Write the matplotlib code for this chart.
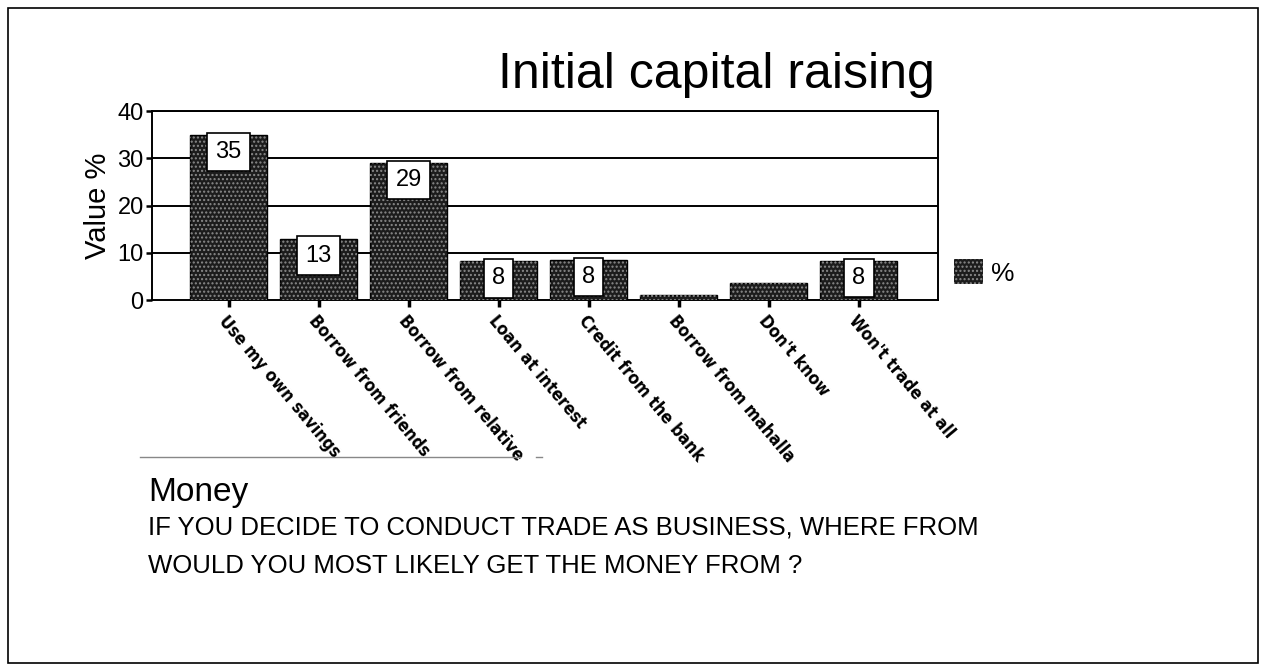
import matplotlib.pyplot as plt
from matplotlib.patches import Rectangle
from matplotlib.lines import Line2D

categories = ["Use my own savings", "Borrow from friends", "Borrow from relative",
              "Loan at interest", "Credit from the bank", "Borrow from mahalla",
              "Don't know", "Won't trade at all"]
values = [35, 13, 29, 8.2, 8.5, 1, 3.5, 8.3]
shown = ["35", "13", "29", "8", "8", "", "", "8"]
yticks = [0, 10, 20, 30, 40]

plt.rcParams['font.family'] = ['Liberation Sans', 'DejaVu Sans']

fig = plt.figure(figsize=(12.66, 6.71), dpi=100)
ax = fig.add_axes([152 / 1266, 1 - 300 / 671, 786 / 1266, 189 / 671])

x = range(len(categories))
ax.bar(x, values, width=0.86, color='#1c1c1c', edgecolor='black', linewidth=1, zorder=3)
ax.bar(x, values, width=0.86, color='none', edgecolor='#8a8a8a', hatch='....',
       linewidth=0, zorder=4, label='%')

# value boxes sit just under the top of each bar
for xi, v, s in zip(x, values, shown):
    if s:
        ax.text(xi, v - 1.3, s, ha='center', va='top', fontsize=17, zorder=6,
                bbox=dict(boxstyle='square,pad=0.35', fc='white', ec='black', lw=1.2))

ax.set_xlim(-0.85, 7.88)
ax.set_ylim(0, 40)
ax.set_yticks(yticks)
ax.tick_params(axis='y', labelsize=17, length=4, width=1.8, direction='out', pad=2)
ax.set_xticks(list(x))
ax.set_xticklabels(categories, rotation=-50, ha='left', va='top', rotation_mode='anchor',
                   fontsize=12.5, fontweight='heavy', fontstretch='condensed',
                   family='DejaVu Sans')
ax.tick_params(axis='x', length=5, width=2.5, direction='out', pad=4)
for v in yticks[1:]:
    ax.axhline(v, color='black', lw=1.4, zorder=1)
for sp in ax.spines.values():
    sp.set_linewidth(1.4)
ax.set_ylabel('Value %', fontsize=21, labelpad=4)

leg = ax.legend(loc='lower left', bbox_to_anchor=(0.99, -0.05), frameon=False,
                fontsize=19, handlelength=1.1, handleheight=1.1, handletextpad=0.3)
for h in leg.legend_handles:
    h.set_facecolor('#1c1c1c')

fig.text(716 / 1266, 1 - 75 / 671, 'Initial capital raising', ha='center', va='center',
         fontsize=36)

fig.add_artist(Line2D([140 / 1266, 520 / 1266], [1 - 457 / 671] * 2, color='#888888', lw=1))
fig.add_artist(Line2D([536 / 1266, 542 / 1266], [1 - 457 / 671] * 2, color='#888888', lw=1))

fig.text(148 / 1266, 1 - 492 / 671, 'Money', ha='left', va='center', fontsize=24)
fig.text(148 / 1266, 1 - 528 / 671, 'IF YOU DECIDE TO CONDUCT TRADE AS BUSINESS, WHERE FROM',
         ha='left', va='center', fontsize=18.5)
fig.text(148 / 1266, 1 - 566 / 671, 'WOULD YOU MOST LIKELY GET THE MONEY FROM ?',
         ha='left', va='center', fontsize=18.5)

fig.add_artist(Rectangle((8 / 1266, 8 / 671), 1250 / 1266, 655 / 671, transform=fig.transFigure,
                         fill=False, ec='black', lw=1.2))

fig.savefig('out.png', dpi=100)
